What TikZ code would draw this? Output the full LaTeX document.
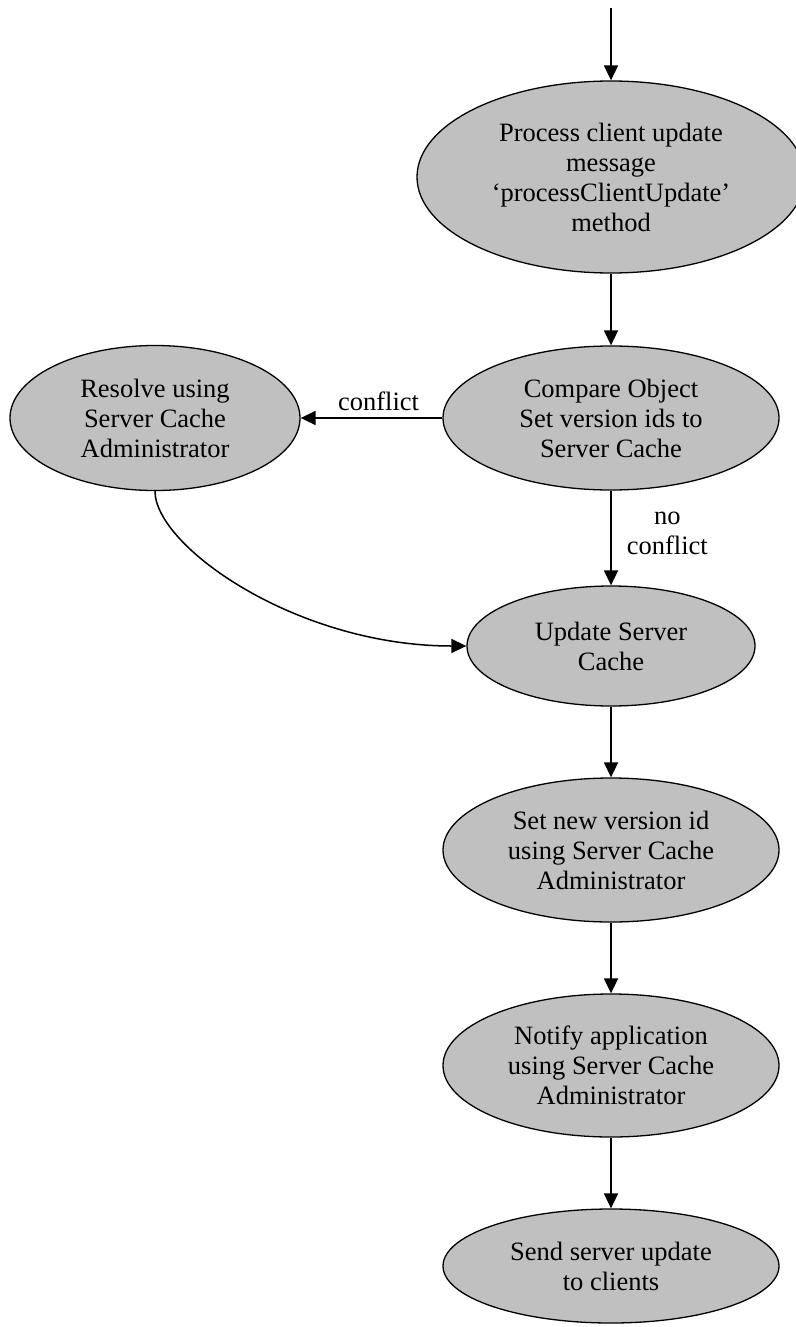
\documentclass[tikz,border=0pt]{standalone}
\usepackage{fontspec}
\setmainfont{Liberation Serif}
\usetikzlibrary{shapes.geometric,arrows.meta}
\definecolor{statefill}{HTML}{C0C0C0}
\begin{document}
\begin{tikzpicture}[x=1pt,y=-1pt,
  state/.style={ellipse,draw=black,line width=1.3pt,fill=statefill,
    inner sep=0pt,align=center,font=\fontsize{26.5}{30}\selectfont},
  flow/.style={line width=1.8pt,-{Triangle[length=15pt,width=14pt]}},
  lbl/.style={align=center,inner sep=0pt,font=\fontsize{26.5}{30}\selectfont}]
\useasboundingbox (0,0) rectangle (795,1327);

% states
\node[state,minimum width=388pt,minimum height=192pt] (process) at (611,177)
  {Process client update\\message\\‘processClientUpdate’\\method};
\node[state,minimum width=336pt,minimum height=144pt] (compare) at (611,418)
  {Compare Object\\Set version ids to\\Server Cache};
\node[state,minimum width=290pt,minimum height=145pt] (resolve) at (155,418)
  {Resolve using\\Server Cache\\Administrator};
\node[state,minimum width=288pt,minimum height=120pt] (update) at (611,646)
  {Update Server\\Cache};
\node[state,minimum width=336pt,minimum height=144pt] (setid) at (611,850)
  {Set new version id\\using Server Cache\\Administrator};
\node[state,minimum width=336pt,minimum height=143pt] (notify) at (611,1065.5)
  {Notify application\\using Server Cache\\Administrator};
\node[state,minimum width=336pt,minimum height=114pt] (send) at (611,1266)
  {Send server update\\to clients};

% transitions
\coordinate (entry) at (611,8);
\draw[flow] (entry) -- (process);
\draw[flow] (process) -- (compare);
\draw[flow] (compare) -- node[lbl,pos=0.45,above=6pt] {conflict} (resolve);
\draw[flow] (compare) -- node[lbl,pos=0.45,right=15pt] {no\\conflict} (update);
\draw[flow,line width=1.5pt] (resolve.south) .. controls +(0,55) and +(-170,0) .. (update.west);
\draw[flow] (update) -- (setid);
\draw[flow] (setid) -- (notify);
\draw[flow] (notify) -- (send);
\end{tikzpicture}
\end{document}
